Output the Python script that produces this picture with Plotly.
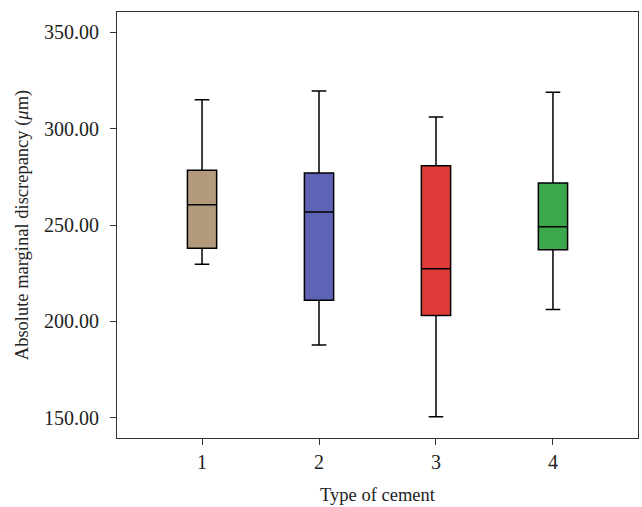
import plotly.graph_objects as go

categories = [1, 2, 3, 4]
upper = [315.0, 319.5, 306.0, 318.9]
q3 = [278.4, 277.0, 280.8, 271.8]
median = [260.5, 256.7, 227.3, 249.1]
q1 = [237.9, 211.0, 203.1, 237.2]
lower = [229.6, 187.7, 150.5, 206.2]
colors = ["#b39a7d", "#5f63b6", "#de3a37", "#3aa84b"]
y_ticks = [150, 200, 250, 300, 350]

fig = go.Figure()
for i, c in enumerate(categories):
    fig.add_trace(go.Box(
        x=[c], q1=[q1[i]], median=[median[i]], q3=[q3[i]],
        lowerfence=[lower[i]], upperfence=[upper[i]],
        fillcolor=colors[i], line=dict(color="black", width=1.5),
        width=0.25, whiskerwidth=0.5, boxpoints=False, showlegend=False,
        hoverinfo="y",
    ))

font = "Liberation Serif, Times New Roman, serif"
fig.update_layout(
    width=642, height=507,
    margin=dict(l=117, r=4, t=12, b=69, autoexpand=False),
    plot_bgcolor="white", paper_bgcolor="white",
    font=dict(family=font, size=18, color="#222"),
    xaxis=dict(
        range=[0.273, 4.727], tickvals=categories, ticktext=[str(c) for c in categories],
        ticks="outside", ticklen=6, tickcolor="#333", showline=True, linecolor="#333",
        linewidth=1, mirror=True, showgrid=False, zeroline=False, automargin=False,
        tickfont=dict(family=font, size=20, color="#222"), ticklabelstandoff=0,
        title=dict(text="Type of cement", standoff=16, font=dict(family=font, size=18.5, color="#222")),
    ),
    yaxis=dict(
        range=[139.5, 360.5], tickvals=y_ticks, ticktext=[f"{v:.2f}" for v in y_ticks],
        ticks="outside", ticklen=6, tickcolor="#333", showline=True, linecolor="#333",
        linewidth=1, mirror=True, showgrid=False, zeroline=False, automargin=False,
        tickfont=dict(family=font, size=20, color="#222"), ticklabelstandoff=7,
        title=dict(text="Absolute marginal discrepancy (<i>μ</i>m)", standoff=10,
                   font=dict(family=font, size=18.5, color="#222")),
    ),
)
fig.write_html("out.html", config={"displayModeBar": False},
               post_script="document.body.style.margin='0';document.body.style.overflow='hidden';")
